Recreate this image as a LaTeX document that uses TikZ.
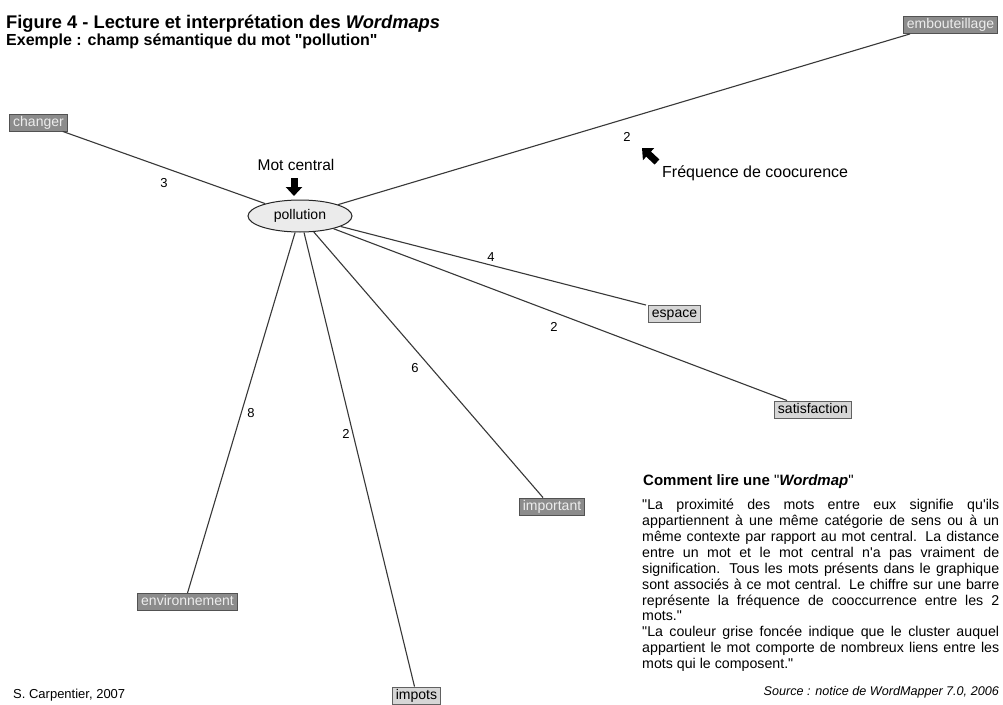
\documentclass[tikz,border=0pt]{standalone}
\usepackage{fontspec}
\setmainfont{Liberation Sans}
\usetikzlibrary{arrows.meta,calc,shapes.geometric}
\newcommand{\fsz}[1]{\fontsize{#1}{#1}\selectfont}
\newcommand{\dq}{\textquotedbl}
\newcommand{\sq}{\textquotesingle}
\begin{document}
\begin{tikzpicture}[x=1pt,y=-1pt,
  wordbox/.style={line width=0.9pt, font=\fsz{14}, inner xsep=3.5pt, inner ysep=2pt, text height=10pt, text depth=3pt},
  darkbox/.style={wordbox, draw=black!68, fill=black!45, text=black!7},
  lightbox/.style={wordbox, draw=black!62, fill=black!16, text=black},
  link/.style={draw=black!78, line width=1.1pt},
  num/.style={font=\fsz{13}, inner sep=0pt},
  blockarrow/.style={line width=7pt, -{Triangle[length=9pt,width=16pt]}, black},
  plain/.style={inner sep=0pt}
]
\useasboundingbox (0,0) rectangle (1003,704);
\fill[white] (0,0) rectangle (1003,704);
\clip (0,0) rectangle (1003,704);

% titles
\node[plain, anchor=base west, font=\bfseries\fsz{18.3}] (title) at (6,28) {Figure 4 - Lecture et interprétation des \textit{Wordmaps}};
\node[plain, anchor=base west, font=\bfseries\fsz{16}] (subtitle) at (6,45) {Exemple : champ sémantique du mot \dq pollution\dq};

% central word
\node[plain, anchor=base, font=\fsz{15.5}] (motc) at (296,170) {Mot central};
\node[draw=black!85, line width=1pt, fill=black!8, ellipse, minimum width=104pt, minimum height=32pt, inner sep=0pt, font=\fsz{14}] (pol) at (300,216) {pollution};
\coordinate (mcA) at (294,178);
\coordinate (mcB) at (294,196);
\draw[blockarrow] (mcA) -- (mcB);

% frequency legend
\node[plain, anchor=base west, font=\fsz{16}] (freq) at (662,177) {Fréquence de coocurence};
\coordinate (frA) at (657,162);
\coordinate (frB) at (642,148);
\draw[blockarrow] (frA) -- (frB);

% word boxes
\node[darkbox] (emb) at (950.5,25) {embouteillage};
\node[darkbox] (chg) at (38.5,122.5) {changer};
\node[lightbox] (esp) at (674.5,314) {espace};
\node[lightbox] (sat) at (813,409.5) {satisfaction};
\node[darkbox] (imp) at (552,506.5) {important};
\node[darkbox] (env) at (187.5,602) {environnement};
\node[lightbox] (ipt) at (416.5,695.5) {impots};

% links
\draw[link] (pol) -- ([xshift=-5pt]chg.south east);
\draw[link] (pol) -- ([xshift=7pt]emb.south west);
\draw[link] (pol) -- ([xshift=-2pt]esp.north west);
\draw[link] (pol) -- ([xshift=13pt]sat.north west);
\draw[link] (pol) -- ([xshift=-9pt]imp.north);
\draw[link] (pol) -- (env.north);
\draw[link] (pol) -- ([xshift=-2pt]ipt.north);

% frequencies
\node[num] (n1) at (164,183) {3};
\node[num] (n2) at (627,137) {2};
\node[num] (n3) at (491,257) {4};
\node[num] (n4) at (554,327) {2};
\node[num] (n5) at (415,368) {6};
\node[num] (n6) at (251,413) {8};
\node[num] (n7) at (346,434) {2};

% explanation
\node[plain, anchor=base west, font=\fsz{15}] (howto) at (643,485) {\textbf{Comment lire une }\dq\textbf{\textit{Wordmap}}\dq};
\node[plain, anchor=north west, text width=357pt, align=justify, font=\fontsize{14.2}{15.9}\selectfont] (para) at (642,499)
{\tolerance=10000 \hyphenpenalty=10000
\dq La proximité des mots entre eux signifie qu\sq ils\linebreak
appartiennent à une même catégorie de sens ou à un\linebreak
même contexte par rapport au mot central. La distance\linebreak
entre un mot et le mot central n\sq a pas vraiment de\linebreak
signification. Tous les mots présents dans le graphique\linebreak
sont associés à ce mot central. Le chiffre sur une barre\linebreak
représente la fréquence de cooccurrence entre les 2\linebreak
mots.\dq\\
\dq La couleur grise foncée indique que le cluster auquel\linebreak
appartient le mot comporte de nombreux liens entre les\linebreak
mots qui le composent.\dq};
\node[plain, anchor=base east, font=\itshape\fsz{12.6}] (src) at (999,695) {Source : notice de WordMapper 7.0, 2006};

\node[plain, anchor=base west, font=\fsz{13}] (auth) at (13,698) {S. Carpentier, 2007};
\end{tikzpicture}
\end{document}
